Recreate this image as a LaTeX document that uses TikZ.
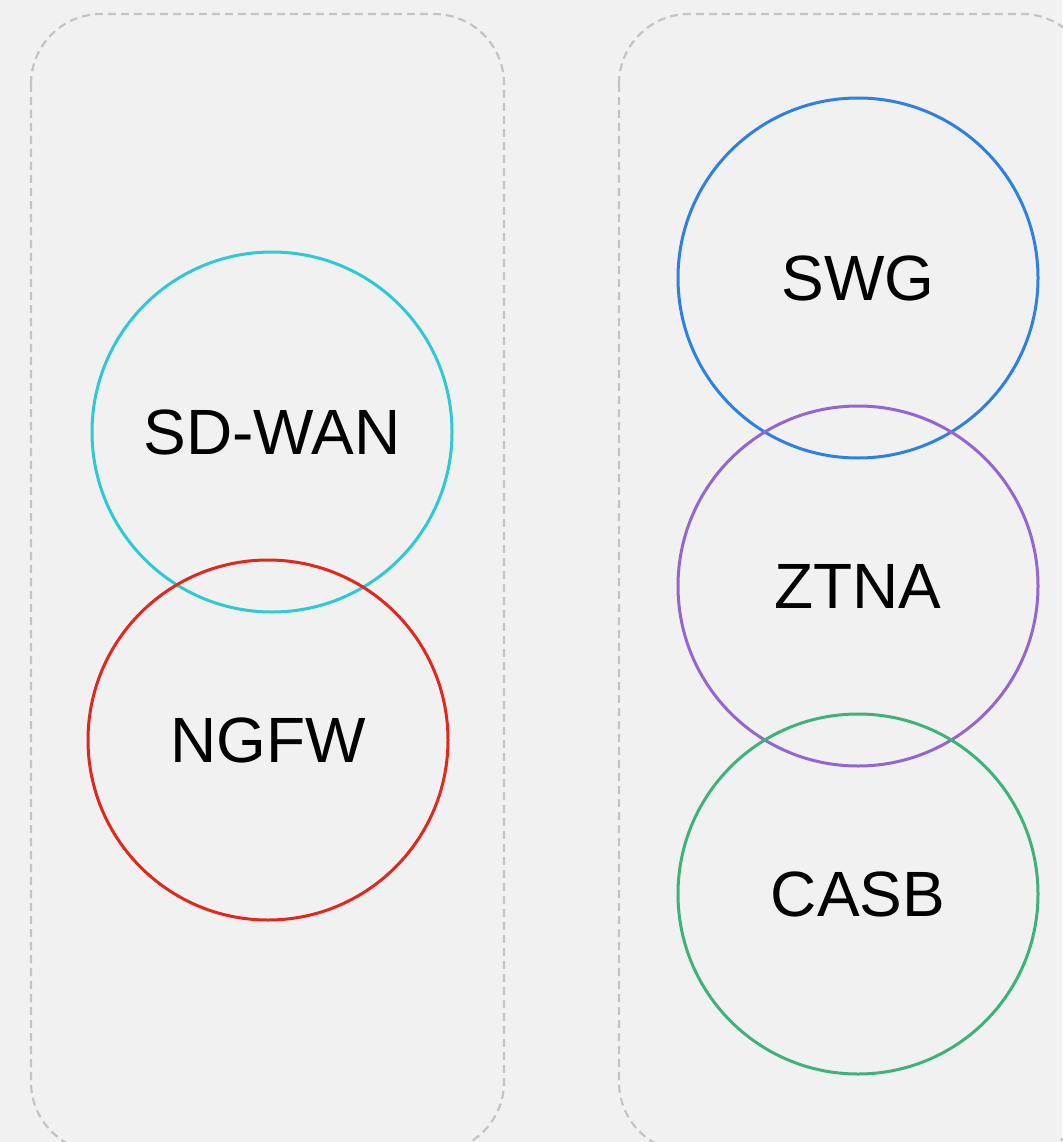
\documentclass[tikz,border=0pt]{standalone}
\usepackage{fontspec}
\setmainfont{Liberation Sans}
\definecolor{bgcol}{HTML}{F1F1F1}
\definecolor{boxcol}{HTML}{C4C4C4}
\definecolor{wancol}{HTML}{2ECAD3}
\definecolor{fwcol}{HTML}{E0281E}
\definecolor{swgcol}{HTML}{2F80E0}
\definecolor{ztnacol}{HTML}{9466D0}
\definecolor{casbcol}{HTML}{3DB37A}
\tikzset{
  group/.style={draw=boxcol,line width=2.2pt,dash pattern=on 8pt off 5pt,rounded corners=70pt},
  svc/.style={circle,draw=#1,line width=3pt,minimum size=360pt,inner sep=0pt,
    font=\fontsize{64}{72}\selectfont},
}
\begin{document}
\begin{tikzpicture}[x=1pt,y=-1pt]

\fill[bgcol] (0,0) rectangle (1062,1142);
\useasboundingbox (0,0) rectangle (1062,1142);

%dashed groups
\draw[group] (31,14) rectangle (504,1152);
\draw[group] (619,14) rectangle (1092,1152);

%left group
\node[svc=wancol] (sdwan) at (272,432) {SD-WAN};
\node[svc=fwcol] (ngfw) at (268,740) {NGFW};

%right group
\node[svc=swgcol] (swg) at (858,278) {SWG};
\node[svc=ztnacol] (ztna) at (858,586) {ZTNA};
\node[svc=casbcol] (casb) at (858,894) {CASB};

\end{tikzpicture}
\end{document}
